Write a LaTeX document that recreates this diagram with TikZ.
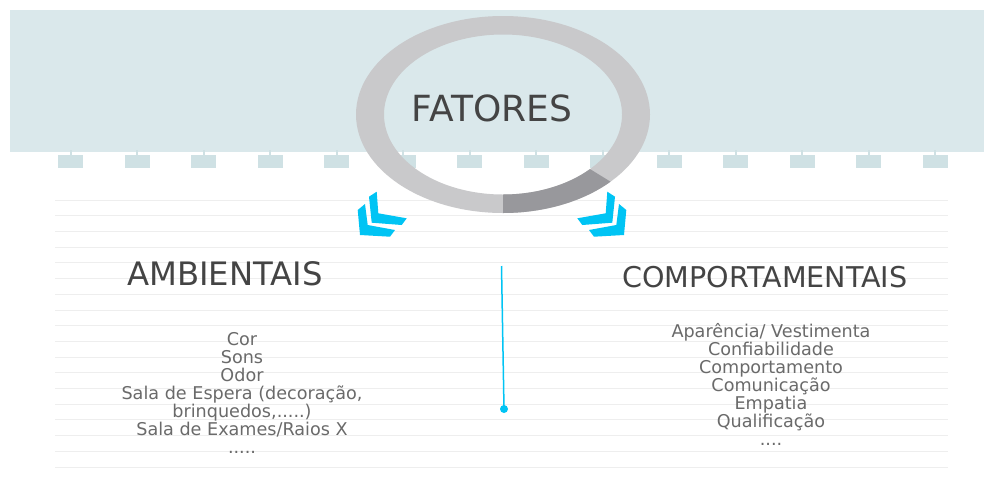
\documentclass[tikz,border=0pt]{standalone}
\usepackage{fontspec}
\setmainfont{DejaVu Sans}
\usepackage{xcolor}
\usepackage{tikz}
\definecolor{bandblue}{HTML}{DAE8EB}
\definecolor{tabblue}{HTML}{CFE1E4}
\definecolor{ringgray}{HTML}{C9C9CB}
\definecolor{ringdark}{HTML}{98989C}
\definecolor{chevblue}{HTML}{00C4F4}
\definecolor{txtdark}{HTML}{444444}
\definecolor{txtgray}{HTML}{6A6A6A}
\newcommand{\chevpair}{%
  \fill[chev] (369,196.7) -- (376.7,191.7) -- (378.3,213.3) -- (406.7,218.3)
    -- (401.7,225) -- (371.7,222.7) -- cycle;
  \fill[chev] (357.7,210) -- (365,204) -- (367.7,225) -- (395,230)
    -- (390,236.7) -- (360,235) -- cycle;}

\begin{document}
\begin{tikzpicture}[x=1pt, y=-1pt,
                   title/.style={text=txtdark, inner sep=0pt,
                     font=\fontsize{32.3}{38}\selectfont},
                   items/.style={text=txtgray, inner sep=0pt, align=center,
                     font=\fontsize{17.6}{18}\selectfont},
                   chev/.style={fill=chevblue, draw=none}]
  \useasboundingbox (0,0) rectangle (984,477);
  \fill[white] (0,0) rectangle (984,477);
  \fill[bandblue] (10,10) rectangle (984,152);
  \foreach \i in {0,...,13} {
    \fill[tabblue] (58+66.5*\i,155) rectangle +(25,13);
    \fill[tabblue] (69.5+66.5*\i,150) rectangle +(2,6);
  }
  \foreach \k in {0,...,17}
    \draw[gray!13, line width=0.8pt] (55,200+15.7*\k) -- (948,200+15.7*\k);

  \fill[ringgray, even odd rule] (503,114.5) ellipse [x radius=147, y radius=98.5]
    (503,114.5) ellipse [x radius=119, y radius=80];
  \fill[ringdark, shift={(503,114.5)}] (43:147 and 98.5)
    arc [start angle=43, end angle=90, x radius=147, y radius=98.5]
    -- (90:119 and 80)
    arc [start angle=90, end angle=43, x radius=119, y radius=80] -- cycle;
  \node[title, font=\fontsize{36}{42}\selectfont] (fatores) at (492,108) {FATORES};

  \chevpair
  \begin{scope}[shift={(984,0)}, xscale=-1]
    \chevpair
  \end{scope}

  \node[title] (ambient) at (225,274) {AMBIENTAIS};
  \node[title, font=\fontsize{28.6}{34}\selectfont] (comport) at (765,277) {COMPORTAMENTAIS};

  \node[items] (ambitems) at (242,392.7) {Cor\\Sons\\Odor\\Sala de Espera (decoração,\\
    brinquedos,.....)\\Sala de Exames/Raios X\\.....};
  \node[items] (compitems) at (771,384.5) {Aparência/ Vestimenta\\Confiabilidade\\
    Comportamento\\Comunicação\\Empatia\\Qualificação\\....};

  \coordinate (ltop) at (501.5,266);
  \coordinate (lbot) at (504,409);
  \draw[chevblue, line width=1.5pt] (ltop) -- (lbot);
  \fill[chevblue] (lbot) circle (4);
\end{tikzpicture}
\end{document}
